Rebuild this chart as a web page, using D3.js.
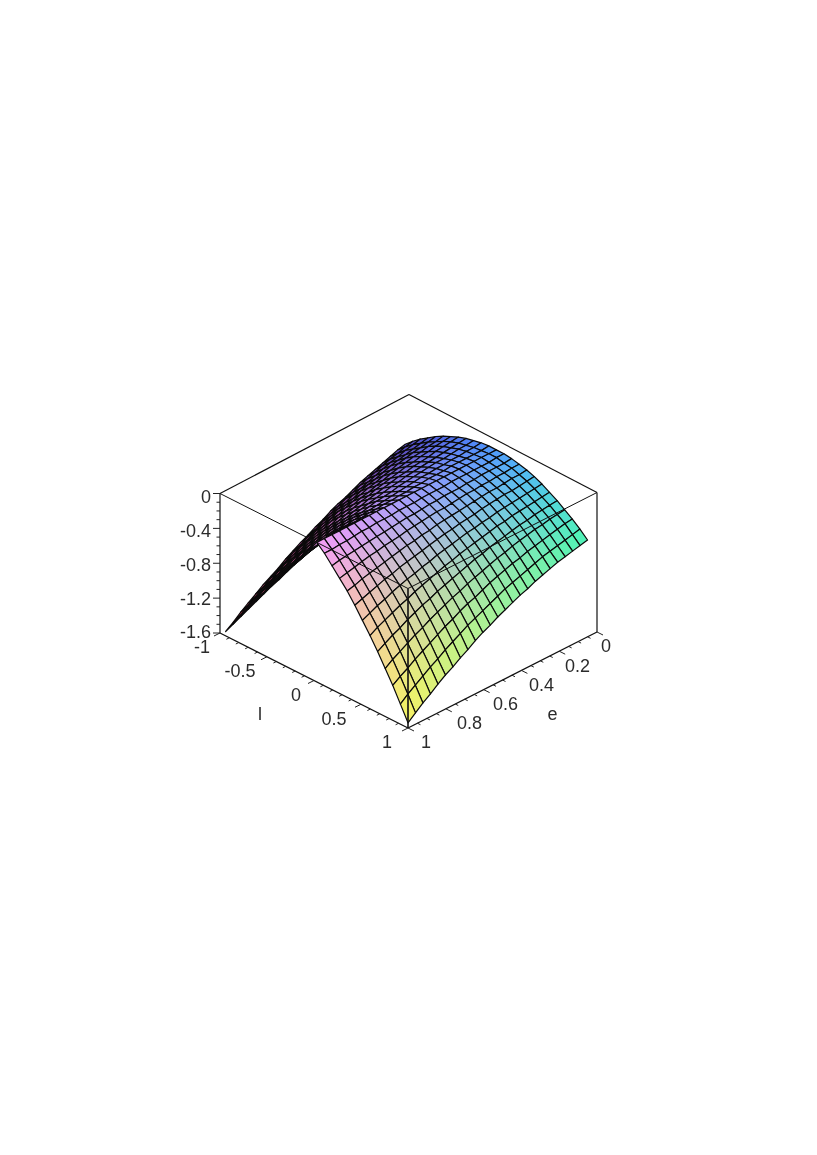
<!DOCTYPE html>
<html>
<head>
<meta charset="utf-8">
<script src="https://cdn.jsdelivr.net/npm/d3@7"></script>
<style>
html,body{margin:0;padding:0;background:#fff}
svg{display:block;filter:blur(0.4px)}
text{font-family:"Liberation Sans",Arial,sans-serif;font-size:18px;fill:#2b2b2b}
</style>
</head>
<body>
<svg id="chart" width="817" height="1155"></svg>
<script>
// Grid positions of the surface
const lValues = d3.range(25).map(k => -0.94 + k * 1.94 / 24);
const eValues = d3.range(25).map(j => 0.05 + j * 0.95 / 24);
// Surface heights: one row per e value, one column per l value
const zRows = [
[-.48,-.40,-.33,-.27,-.21,-.16,-.12,-.08,-.05,-.03,-.01,0,0,0,-.01,-.03,-.05,-.08,-.12,-.17,-.22,-.28,-.34,-.41,-.49],
[-.50,-.42,-.35,-.29,-.23,-.18,-.13,-.09,-.06,-.04,-.02,-.01,0,0,-.02,-.03,-.06,-.09,-.13,-.18,-.23,-.29,-.35,-.43,-.51],
[-.53,-.45,-.37,-.31,-.25,-.19,-.14,-.10,-.07,-.04,-.02,-.01,0,-.01,-.02,-.04,-.06,-.10,-.14,-.19,-.24,-.30,-.37,-.45,-.53],
[-.56,-.47,-.40,-.33,-.26,-.21,-.16,-.11,-.08,-.05,-.03,-.01,0,-.01,-.02,-.04,-.07,-.11,-.15,-.20,-.25,-.32,-.39,-.47,-.55],
[-.59,-.50,-.42,-.35,-.28,-.22,-.17,-.13,-.09,-.06,-.03,-.01,0,-.01,-.02,-.05,-.08,-.11,-.16,-.21,-.27,-.33,-.41,-.49,-.57],
[-.62,-.53,-.45,-.37,-.30,-.24,-.19,-.14,-.10,-.06,-.04,-.01,0,-.01,-.03,-.05,-.08,-.12,-.17,-.22,-.28,-.35,-.43,-.51,-.60],
[-.65,-.56,-.48,-.40,-.33,-.26,-.20,-.15,-.11,-.07,-.04,-.02,0,-.01,-.03,-.06,-.09,-.13,-.18,-.24,-.30,-.37,-.45,-.54,-.63],
[-.69,-.59,-.51,-.43,-.35,-.28,-.22,-.17,-.12,-.08,-.05,-.02,0,-.01,-.04,-.06,-.10,-.14,-.20,-.25,-.32,-.39,-.48,-.57,-.66],
[-.73,-.63,-.54,-.45,-.38,-.31,-.24,-.18,-.13,-.09,-.05,-.02,0,-.02,-.04,-.07,-.11,-.16,-.21,-.27,-.34,-.42,-.50,-.60,-.70],
[-.76,-.66,-.57,-.48,-.40,-.33,-.26,-.20,-.15,-.10,-.06,-.03,0,-.02,-.04,-.08,-.12,-.17,-.23,-.29,-.36,-.44,-.53,-.63,-.73],
[-.80,-.70,-.61,-.52,-.43,-.36,-.28,-.22,-.16,-.11,-.07,-.03,0,-.02,-.05,-.09,-.13,-.18,-.24,-.31,-.39,-.47,-.56,-.66,-.77],
[-.85,-.74,-.64,-.55,-.46,-.38,-.31,-.24,-.18,-.13,-.08,-.04,0,-.02,-.05,-.09,-.14,-.20,-.26,-.33,-.41,-.50,-.59,-.70,-.81],
[-.89,-.78,-.68,-.58,-.49,-.41,-.33,-.26,-.20,-.14,-.09,-.04,0,-.03,-.06,-.10,-.15,-.21,-.28,-.35,-.44,-.53,-.63,-.74,-.85],
[-.94,-.83,-.72,-.62,-.53,-.44,-.36,-.29,-.22,-.15,-.10,-.05,0,-.03,-.07,-.11,-.17,-.23,-.30,-.38,-.47,-.56,-.67,-.78,-.90],
[-.98,-.87,-.76,-.66,-.56,-.47,-.39,-.31,-.24,-.17,-.11,-.05,0,-.03,-.07,-.12,-.18,-.25,-.32,-.40,-.50,-.60,-.70,-.82,-.94],
[-1.03,-.92,-.81,-.70,-.60,-.51,-.42,-.34,-.26,-.19,-.12,-.06,0,-.04,-.08,-.13,-.20,-.27,-.35,-.43,-.53,-.63,-.74,-.86,-.99],
[-1.08,-.96,-.85,-.74,-.64,-.54,-.45,-.36,-.28,-.20,-.13,-.06,0,-.04,-.09,-.15,-.21,-.29,-.37,-.46,-.56,-.67,-.79,-.91,-1.05],
[-1.14,-1.02,-.90,-.79,-.68,-.58,-.48,-.39,-.30,-.22,-.14,-.07,0,-.04,-.10,-.16,-.23,-.31,-.40,-.49,-.60,-.71,-.83,-.96,-1.10],
[-1.19,-1.07,-.95,-.84,-.73,-.62,-.52,-.42,-.33,-.24,-.16,-.08,0,-.05,-.11,-.17,-.25,-.33,-.42,-.52,-.63,-.75,-.88,-1.01,-1.16],
[-1.24,-1.12,-1.00,-.89,-.77,-.66,-.56,-.46,-.36,-.26,-.17,-.08,0,-.05,-.12,-.19,-.27,-.36,-.45,-.56,-.67,-.80,-.93,-1.07,-1.21],
[-1.30,-1.18,-1.06,-.94,-.82,-.71,-.60,-.49,-.39,-.28,-.19,-.09,0,-.06,-.13,-.20,-.29,-.38,-.48,-.59,-.71,-.84,-.98,-1.12,-1.27],
[-1.36,-1.24,-1.11,-.99,-.87,-.75,-.64,-.53,-.42,-.31,-.20,-.10,0,-.07,-.14,-.22,-.31,-.41,-.52,-.63,-.76,-.89,-1.03,-1.18,-1.34],
[-1.42,-1.30,-1.17,-1.04,-.92,-.80,-.68,-.56,-.45,-.33,-.22,-.11,0,-.07,-.15,-.24,-.33,-.44,-.55,-.67,-.80,-.94,-1.09,-1.24,-1.40],
[-1.49,-1.36,-1.23,-1.10,-.98,-.85,-.73,-.60,-.48,-.36,-.24,-.12,0,-.08,-.16,-.26,-.36,-.47,-.59,-.71,-.85,-.99,-1.14,-1.30,-1.47],
[-1.55,-1.42,-1.29,-1.16,-1.03,-.90,-.77,-.65,-.52,-.39,-.26,-.13,0,-.08,-.18,-.28,-.38,-.50,-.63,-.76,-.90,-1.05,-1.20,-1.37,-1.54]
];
// Axis labels
const zTicks = [0,-0.4,-0.8,-1.2,-1.6];
const zTickLabels = ["0","-0.4","-0.8","-1.2","-1.6"];
const lTicks = [-1,-0.5,0,0.5,1];
const lTickLabels = ["-1","-0.5","0","0.5","1"];
const eTicks = [0,0.2,0.4,0.6,0.8,1];
const eTickLabels = ["0","0.2","0.4","0.6","0.8","1"];
const lMinor = d3.range(-10,11).map(d => d/10);
const eMinor = d3.range(0,21).map(d => d/20);
const zMinor = d3.range(-16,1).map(d => d/10);

// Oblique projection from scales
const lX = d3.scaleLinear([-1,1],[220,408]);
const lY = d3.scaleLinear([-1,1],[633,728]);
const eX = d3.scaleLinear([1,0],[0,189]);
const eY = d3.scaleLinear([1,0],[0,-96]);
const zY = d3.scaleLinear([-1.6,0],[0,-139.5]);
const far = d3.scaleLinear([0,1],[0,-3]);
const px = (l,e) => lX(l)+eX(e);
const py = (l,e,z) => lY(l)+eY(e)+zY(z)+far((1-l)/2*(1-e));

// Colour comes from position: red from e, green from l, blue from z
const rScale = d3.scaleLinear([0,1],[70,245]);
const gScale = d3.scaleLinear([-1,1],[60,245]);
const bScale = d3.scaleLinear([-1.6,-0.5,0],[90,178,250]);

const svg = d3.select("#chart");
const boxLine = (a,b,w) => svg.append("line")
  .attr("x1",px(a[0],a[1])).attr("y1",py(a[0],a[1],a[2]))
  .attr("x2",px(b[0],b[1])).attr("y2",py(b[0],b[1],b[2]))
  .attr("stroke","#111").attr("stroke-width",w);

// Back edges of the box and axes
boxLine([-1,0,0],[-1,1,0],1.2);
boxLine([-1,0,0],[1,0,0],1.2);
boxLine([-1,1,0],[-1,1,-1.6],1.2);
boxLine([1,0,0],[1,0,-1.6],1.2);
boxLine([-1,1,-1.6],[1,1,-1.6],1.3);
boxLine([1,0,-1.6],[1,1,-1.6],1.3);

// Surface cells: far ones first
const cells = [];
lValues.slice(0,-1).forEach((l,i) => {
  eValues.slice(0,-1).forEach((e,j) => {
    cells.push([[i,j],[i+1,j],[i+1,j+1],[i,j+1]].map(([a,b]) => [lValues[a],eValues[b],zRows[b][a]]));
  });
});
svg.append("g").selectAll("path").data(cells).join("path")
  .attr("d", c => d3.line()(c.map(p => [px(p[0],p[1]),py(p[0],p[1],p[2])])) + "Z")
  .attr("fill", c => {
    const m = k => d3.mean(c, p => p[k]);
    return d3.rgb(rScale(m(1)),gScale(m(0)),bScale(m(2))).formatHex();
  })
  .attr("stroke","#0a0a0a").attr("stroke-width",1.2).attr("stroke-linejoin","round");

// Front edges of the box, over the surface
boxLine([-1,1,0],[1,1,0],1.0);
boxLine([1,0,0],[1,1,0],1.0);
boxLine([1,1,0],[1,1,-1.6],1.6);

// Ticks
const tick = (x,y,dx,dy) => svg.append("line").attr("x1",x).attr("y1",y).attr("x2",x+dx).attr("y2",y+dy)
  .attr("stroke","#222").attr("stroke-width",1);
zMinor.forEach(z => { const major = zTicks.some(t => Math.abs(t-z)<1e-6);
  tick(px(-1,1),py(-1,1,z), major?-7:-3.5, 0); });
lMinor.forEach(l => { const major = lTicks.some(t => Math.abs(t-l)<1e-6);
  tick(px(l,1),py(l,1,-1.6), major?-6:-3, major?3:1.5); });
eMinor.forEach(e => { const major = eTicks.some(t => Math.abs(t-e)<1e-6);
  tick(px(1,e),py(1,e,-1.6), major?6:3, major?3:1.5); });

// Labels
const label = (x,y,t,anchor) => svg.append("text").attr("x",x).attr("y",y).attr("dy","0.36em")
  .attr("text-anchor",anchor).text(t);
zTicks.forEach((z,i) => label(px(-1,1)-9, py(-1,1,z)+3+2.5*z, zTickLabels[i], "end"));
lTicks.forEach((l,i) => label(px(l,1)-10-3*(l+1), py(l,1,-1.6)+14, lTickLabels[i], "end"));
eTicks.forEach((e,i) => label(px(1,e)+4+9*e, py(1,e,-1.6)+14, eTickLabels[i], "start"));
label(px(0.5,1)-101, py(0.5,1,-1.6)+9, "l", "middle");
label(px(1,0.5)+50, py(1,0.5,-1.6)+34, "e", "middle");
</script>
</body>
</html>
